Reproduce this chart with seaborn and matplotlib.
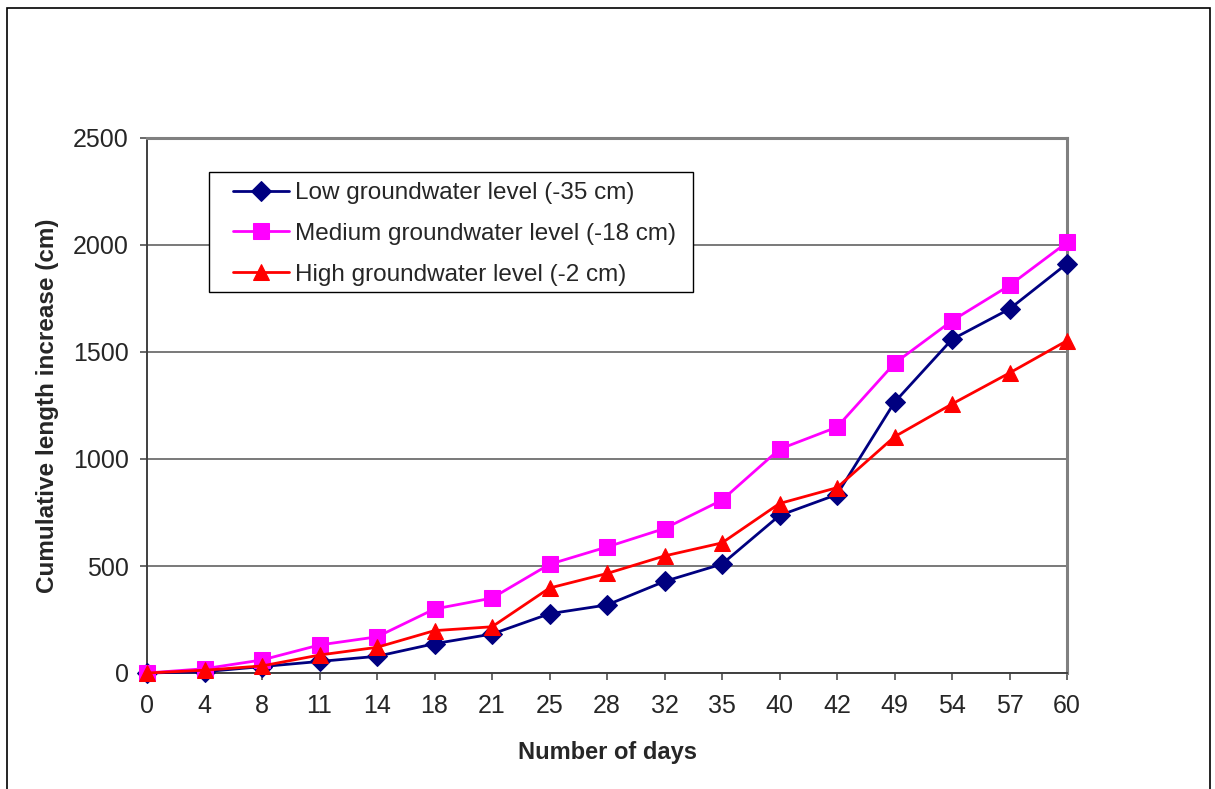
import matplotlib
matplotlib.use("Agg")
import matplotlib.pyplot as plt
import numpy as np
import pandas as pd
import seaborn as sns
from matplotlib.patches import Rectangle

days = ["0", "4", "8", "11", "14", "18", "21", "25", "28", "32", "35", "40", "42", "49", "54", "57", "60"]
low = [0, 6, 30, 54, 78, 137, 182, 277, 318, 428, 509, 736, 834, 1265, 1559, 1701, 1913]
medium = [0, 20, 61, 131, 169, 299, 350, 508, 589, 675, 808, 1046, 1149, 1447, 1646, 1811, 2012]
high = [0, 13, 33, 84, 120, 198, 216, 397, 465, 547, 608, 792, 866, 1104, 1257, 1402, 1553]

labels = ["Low groundwater level (-35 cm)",
          "Medium groundwater level (-18 cm)",
          "High groundwater level (-2 cm)"]
colors = ["#000080", "#FF00FF", "#FF0000"]
markers = ["D", "s", "^"]
msizes = [10, 11, 12]

sns.set_style("white")
plt.rcParams['font.family'] = ['Liberation Sans', 'DejaVu Sans']

fig = plt.figure(figsize=(12.15, 7.89), dpi=100)
ax = fig.add_axes([147 / 1215, 1 - 673 / 789, 920 / 1215, 535 / 789])

pos = np.arange(len(days))
for vals, lab, c, m, ms in zip([low, medium, high], labels, colors, markers, msizes):
    df = pd.DataFrame({"pos": pos, "val": vals})
    sns.lineplot(data=df, x="pos", y="val", ax=ax, color=c, marker=m, markersize=ms,
                 markeredgecolor=c, linewidth=2.0, label=lab, clip_on=False, zorder=3)

ax.set_xlim(0, len(days) - 1)
ax.set_ylim(0, 2500)
ax.set_xticks(pos)
ax.set_xticklabels(days)
ax.set_yticks(np.arange(0, 2501, 500))
ax.yaxis.grid(True, color="#555555", linewidth=1.1)
ax.xaxis.grid(False)
ax.set_axisbelow(True)

for side in ["left", "bottom"]:
    ax.spines[side].set_color("#404040")
    ax.spines[side].set_linewidth(1.4)
for side in ["top", "right"]:
    ax.spines[side].set_color("#808080")
    ax.spines[side].set_linewidth(2.2)

ax.tick_params(axis="both", which="major", direction="out", length=5, width=1.1,
               color="#404040", labelsize=18, pad=8, bottom=True, left=True)
ax.tick_params(axis="x", pad=10)

ax.set_xlabel("Number of days", fontsize=17, fontweight="bold", labelpad=17)
ax.set_ylabel("Cumulative length increase (cm)", fontsize=17.5, fontweight="bold", labelpad=10)

# legend entries without frame, box drawn separately (wider side padding like the original)
leg = ax.legend(loc="upper left", bbox_to_anchor=((233 - 147) / 920, (673 - 182) / 535),
                fontsize=17.5, frameon=False, handlelength=2.3, borderpad=0,
                labelspacing=0.78, handletextpad=0.25, borderaxespad=0)
ax.add_patch(Rectangle(((209 - 147) / 920, (673 - 292) / 535), 484 / 920, 120 / 535,
                       transform=ax.transAxes, fill=True, facecolor="white",
                       edgecolor="black", linewidth=1.0, zorder=4, clip_on=False))
leg.set_zorder(5)

fig.patches.append(Rectangle((7 / 1215, -0.02), 1203 / 1215, 1.02 - 8 / 789,
                             transform=fig.transFigure, fill=False,
                             edgecolor="black", linewidth=1.2))

fig.savefig("out.png", dpi=100)
